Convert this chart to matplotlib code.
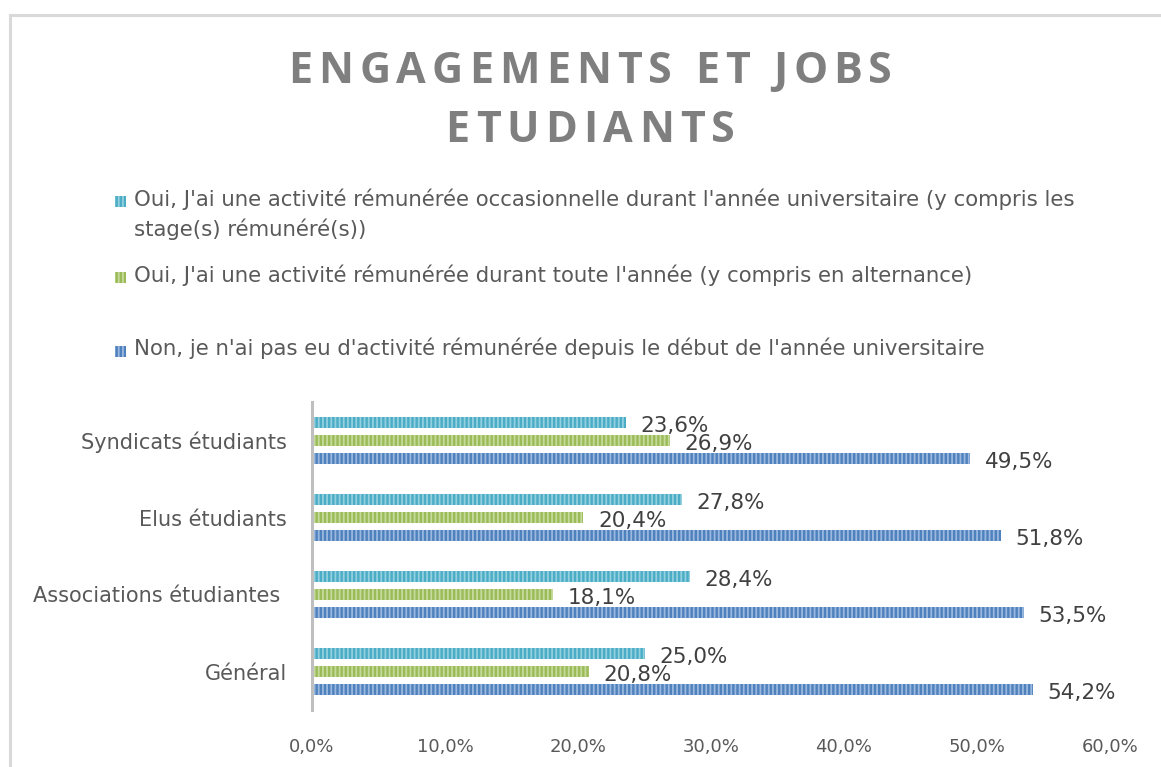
import matplotlib.pyplot as plt
from matplotlib.patches import Rectangle
from matplotlib.lines import Line2D
from matplotlib.font_manager import FontProperties
import numpy as np

categories = ["Général", "Associations étudiantes ", "Elus étudiants", "Syndicats étudiants"]
non_activite = [54.2, 53.5, 51.8, 49.5]
toute_annee = [20.8, 18.1, 20.4, 26.9]
occasionnelle = [25.0, 28.4, 27.8, 23.6]
xticks = [0, 10, 20, 30, 40, 50, 60]

title_lines = ["ENGAGEMENTS ET JOBS", "ETUDIANTS"]
legend_labels = [
    "Oui, J'ai une activité rémunérée occasionnelle durant l'année universitaire (y compris les\nstage(s) rémunéré(s))",
    "Oui, J'ai une activité rémunérée durant toute l'année (y compris en alternance)",
    "Non, je n'ai pas eu d'activité rémunérée depuis le début de l'année universitaire",
]

colors = ["#4BACC6", "#9BBB59", "#4F81BD"]
stripes = ["#93D0E0", "#C6DA9C", "#9AB8E0"]

plt.rcParams["font.family"] = ["DejaVu Sans"]
plt.rcParams["hatch.linewidth"] = 1.3

W, H = 1161, 767
fig = plt.figure(figsize=(W / 100, H / 100), dpi=100)

# cadre gris (haut et gauche)
fig.add_artist(Line2D([10 / W, 1], [1 - 15 / H, 1 - 15 / H], color="#D9D9D9", lw=2.2))
fig.add_artist(Line2D([10 / W, 10 / W], [0, 1 - 15 / H], color="#D9D9D9", lw=2.2))

ax = fig.add_axes([312 / W, 1 - 710 / H, 798 / W, 308 / H])

y = np.arange(len(categories))
step = 0.234
h = 0.145
series = [occasionnelle, toute_annee, non_activite]
offsets = [step, 0, -step]
for vals, off, c, s in zip(series, offsets, colors, stripes):
    ax.barh(y + off, vals, height=h, color=c, edgecolor=s, linewidth=0, hatch="||||")
    for yi, v in zip(y + off, vals):
        ax.text(v + 1.1, yi - 0.04, f"{v:.1f}%".replace(".", ","), va="center", ha="left",
                fontsize=15.5, color="#404040")

ax.set_xlim(0, 60)
ax.set_ylim(-0.5, 3.5)
ax.set_xticks(xticks)
ax.set_xticklabels([f"{t:.1f}%".replace(".", ",") for t in xticks])
ax.set_yticks(y)
ax.set_yticklabels(categories, fontsize=15)
ax.tick_params(axis="both", length=0, colors="#595959")
ax.tick_params(axis="x", labelsize=13, pad=20)
ax.tick_params(axis="y", pad=18)
for sp in ["top", "right", "bottom"]:
    ax.spines[sp].set_visible(False)
ax.spines["left"].set_color("#BFBFBF")
ax.spines["left"].set_linewidth(2.2)

# titre avec espacement des lettres
renderer = fig.canvas.get_renderer()
fp = FontProperties(family="Open Sans", weight="bold", size=31)
spacing = 6.0
for line, base in zip(title_lines, [83, 142]):
    widths = [renderer.get_text_width_height_descent(ch, fp, ismath=False)[0] for ch in line]
    total = sum(widths) + spacing * (len(line) - 1)
    x = 590 - total / 2
    for ch, w in zip(line, widths):
        fig.text(x / W, 1 - base / H, ch, ha="left", va="baseline",
                 fontproperties=fp, color="#7F7F7F")
        x += w + spacing

# légende
leg_y = [201, 277, 351]
for lab, ly, c, s in zip(legend_labels, leg_y, colors, stripes):
    fig.add_artist(Rectangle((115 / W, 1 - (ly + 6) / H), 11 / W, 11 / H, facecolor=c,
                             edgecolor=s, linewidth=0, hatch="||||", transform=fig.transFigure))
    fig.text(134 / W, 1 - (ly - 13) / H, lab, ha="left", va="top", fontsize=15.3,
             color="#595959", linespacing=1.5)

fig.savefig("out.png", dpi=100)
